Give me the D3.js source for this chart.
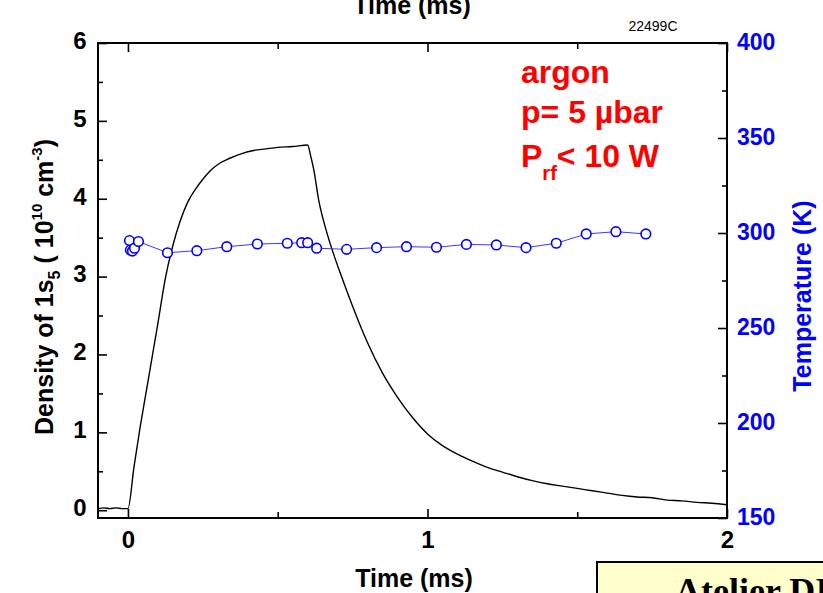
<!DOCTYPE html>
<html>
<head>
<meta charset="utf-8">
<script src="https://cdn.jsdelivr.net/npm/d3@7"></script>
<style>
  body { margin: 0; background: #fff; }
  svg { display: block; font-family: Arial, "Liberation Sans", sans-serif; }
</style>
</head>
<body>
<svg id="chart" width="823" height="593"></svg>
<script>
// ---- data ----
const densTime = [-0.1, -0.08, -0.06, -0.04, -0.02, 0.0, 0.02, 0.04, 0.06, 0.08, 0.1, 0.125, 0.15, 0.175, 0.2, 0.225, 0.25, 0.275, 0.3, 0.34, 0.38, 0.42, 0.46, 0.5, 0.55, 0.6, 0.61, 0.62, 0.637, 0.66, 0.69, 0.717, 0.75, 0.8, 0.85, 0.9, 0.95, 1.0, 1.05, 1.1, 1.15, 1.2, 1.25, 1.3, 1.35, 1.4, 1.45, 1.5, 1.55, 1.6, 1.65, 1.7, 1.75, 1.8, 1.85, 1.9, 1.95, 2.0];
const densValue = [0.02, 0.03, 0.02, 0.03, 0.02, 0.02, 0.55, 1.05, 1.5, 1.95, 2.4, 2.98, 3.4, 3.72, 3.96, 4.12, 4.25, 4.36, 4.44, 4.52, 4.58, 4.62, 4.64, 4.66, 4.67, 4.69, 4.55, 4.38, 3.98, 3.62, 3.25, 2.96, 2.62, 2.15, 1.76, 1.45, 1.19, 0.98, 0.83, 0.72, 0.63, 0.55, 0.49, 0.43, 0.38, 0.34, 0.31, 0.28, 0.25, 0.22, 0.19, 0.17, 0.16, 0.13, 0.12, 0.10, 0.09, 0.07];

const tempTime = [0.005, 0.008, 0.015, 0.022, 0.035, 0.132, 0.23, 0.33, 0.432, 0.532, 0.58, 0.6, 0.63, 0.73, 0.83, 0.93, 1.03, 1.13, 1.23, 1.329, 1.43, 1.53, 1.629, 1.729];
const tempValue = [296, 291, 290.5, 292, 295.5, 289.6, 290.7, 292.8, 294.2, 294.6, 294.9, 294.9, 292, 291.4, 292.3, 292.8, 292.5, 294, 293.7, 292.3, 294.6, 299.5, 300.7, 299.5];

const xTicks = [0, 1, 2];
const xMinor = [0.5, 1.5];
const yLeftTicks = [0, 1, 2, 3, 4, 5, 6];
const yLeftMinor = [0.5, 1.5, 2.5, 3.5, 4.5, 5.5];
const yRightTicks = [150, 200, 250, 300, 350, 400];
const yRightMinor = [175, 225, 275, 325, 375];

// ---- layout ----
const L = 98, R = 727, T = 43, B = 518;
const FONT = "Arial, 'Liberation Sans', sans-serif";
const svg = d3.select("#chart");

const x = d3.scaleLinear().domain([-0.1, 2]).range([L, R]);
const yL = d3.scaleLinear().domain([-0.1, 6]).range([B, T]);
const yR = d3.scaleLinear().domain([150, 400]).range([B, T]);

// density curve
const line = d3.line().x(d => x(d[0])).y(d => yL(d[1])).curve(d3.curveMonotoneX);
svg.append("path")
  .datum(densTime.map((t, i) => [t, densValue[i]]))
  .attr("d", line)
  .attr("fill", "none")
  .attr("stroke", "#000")
  .attr("stroke-width", 1.4);

// temperature
const tdata = tempTime.map((t, i) => [t, tempValue[i]]);
svg.append("path")
  .datum(tdata)
  .attr("d", d3.line().x(d => x(d[0])).y(d => yR(d[1])))
  .attr("fill", "none")
  .attr("stroke", "#3a3aff")
  .attr("stroke-width", 1);
svg.selectAll("circle.t").data(tdata).enter().append("circle")
  .attr("class", "t")
  .attr("cx", d => x(d[0])).attr("cy", d => yR(d[1]))
  .attr("r", 4.8)
  .attr("fill", "#fff")
  .attr("stroke", "#0000ff")
  .attr("stroke-width", 1.6);

// frame
svg.append("rect").attr("x", L).attr("y", T).attr("width", R - L).attr("height", B - T)
  .attr("fill", "none").attr("stroke", "#000").attr("stroke-width", 2);

// axes (inward ticks)
function styleAxis(g) {
  g.select(".domain").remove();
  g.selectAll(".tick line").attr("stroke", "#000").attr("stroke-width", 1.6);
}
const axB = svg.append("g").attr("transform", `translate(0,${B})`)
  .call(d3.axisBottom(x).tickValues(xTicks).tickSize(-9).tickPadding(13).tickFormat(d3.format("d")));
styleAxis(axB);
axB.selectAll("text").attr("font-size", 24).attr("font-weight", "bold").attr("fill", "#000").attr("font-family", FONT);
const axBm = svg.append("g").attr("transform", `translate(0,${B})`)
  .call(d3.axisBottom(x).tickValues(xMinor).tickSize(-6).tickFormat(""));
styleAxis(axBm);

const axT = svg.append("g").attr("transform", `translate(0,${T})`)
  .call(d3.axisTop(x).tickValues(xTicks).tickSize(-9).tickFormat(""));
styleAxis(axT);
const axTm = svg.append("g").attr("transform", `translate(0,${T})`)
  .call(d3.axisTop(x).tickValues(xMinor).tickSize(-6).tickFormat(""));
styleAxis(axTm);

const axL = svg.append("g").attr("transform", `translate(${L},0)`)
  .call(d3.axisLeft(yL).tickValues(yLeftTicks).tickSize(-9).tickFormat(d3.format("d")));
styleAxis(axL);
axL.selectAll("text").attr("font-size", 24).attr("font-weight", "bold").attr("fill", "#000").attr("font-family", FONT)
  .attr("text-anchor", "middle").attr("x", -18).attr("dy", "0.22em");
const axLm = svg.append("g").attr("transform", `translate(${L},0)`)
  .call(d3.axisLeft(yL).tickValues(yLeftMinor).tickSize(-5).tickFormat(""));
styleAxis(axLm);

const axR = svg.append("g").attr("transform", `translate(${R},0)`)
  .call(d3.axisRight(yR).tickValues(yRightTicks).tickSize(-9).tickFormat(d3.format("d")));
styleAxis(axR);
axR.selectAll("text").attr("font-size", 23).attr("font-weight", "bold").attr("fill", "#0000ff").attr("font-family", FONT)
  .attr("x", 10).attr("dy", "0.3em");
const axRm = svg.append("g").attr("transform", `translate(${R},0)`)
  .call(d3.axisRight(yR).tickValues(yRightMinor).tickSize(-5).tickFormat(""));
styleAxis(axRm);

// axis titles
svg.append("text").attr("x", 414).attr("y", 587).attr("text-anchor", "middle")
  .attr("font-size", 25).attr("font-weight", "bold").text("Time (ms)");
svg.append("text").attr("x", 412).attr("y", 14).attr("text-anchor", "middle")
  .attr("font-size", 25).attr("font-weight", "bold").text("Time (ms)");
svg.append("text").attr("x", 653).attr("y", 31).attr("text-anchor", "middle")
  .attr("font-size", 14).text("22499C");

svg.append("text").attr("transform", "translate(811,296) rotate(-90)").attr("text-anchor", "middle")
  .attr("font-size", 25).attr("font-weight", "bold").attr("fill", "#0000ff").text("Temperature (K)");

const yl = svg.append("text").attr("transform", "translate(53,287) rotate(-90)").attr("text-anchor", "middle")
  .attr("font-size", 25).attr("font-weight", "bold");
yl.append("tspan").text("Density of 1s");
yl.append("tspan").attr("font-size", 16).attr("dy", 7).text("5");
yl.append("tspan").attr("dy", -7).text(" ( 10");
yl.append("tspan").attr("font-size", 15).attr("dy", -11).text("10");
yl.append("tspan").attr("dy", 11).text(" cm");
yl.append("tspan").attr("font-size", 15).attr("dy", -11).text("-3");
yl.append("tspan").attr("dy", 11).text(")");

// annotation
const red = "#ff0000";
svg.append("text").attr("x", 521).attr("y", 83).attr("font-size", 32).attr("font-weight", "bold").attr("fill", red).text("argon");
svg.append("text").attr("x", 521).attr("y", 123).attr("font-size", 32).attr("font-weight", "bold").attr("fill", red).text("p= 5 µbar");
const pr = svg.append("text").attr("x", 521).attr("y", 167).attr("font-size", 32).attr("font-weight", "bold").attr("fill", red);
pr.append("tspan").text("P");
pr.append("tspan").attr("font-size", 20).attr("dy", 13).text("rf");
pr.append("tspan").attr("dy", -13).text("< 10 W");

// bottom-right box
svg.append("rect").attr("x", 597).attr("y", 562).attr("width", 240).attr("height", 50)
  .attr("fill", "#ffffcc").attr("stroke", "#000").attr("stroke-width", 2);
svg.append("text").attr("x", 675).attr("y", 603).attr("font-size", 36).attr("font-weight", "bold")
  .attr("font-family", "'Liberation Serif', 'DejaVu Serif', serif").text("Atelier DI");
</script>
</body>
</html>
